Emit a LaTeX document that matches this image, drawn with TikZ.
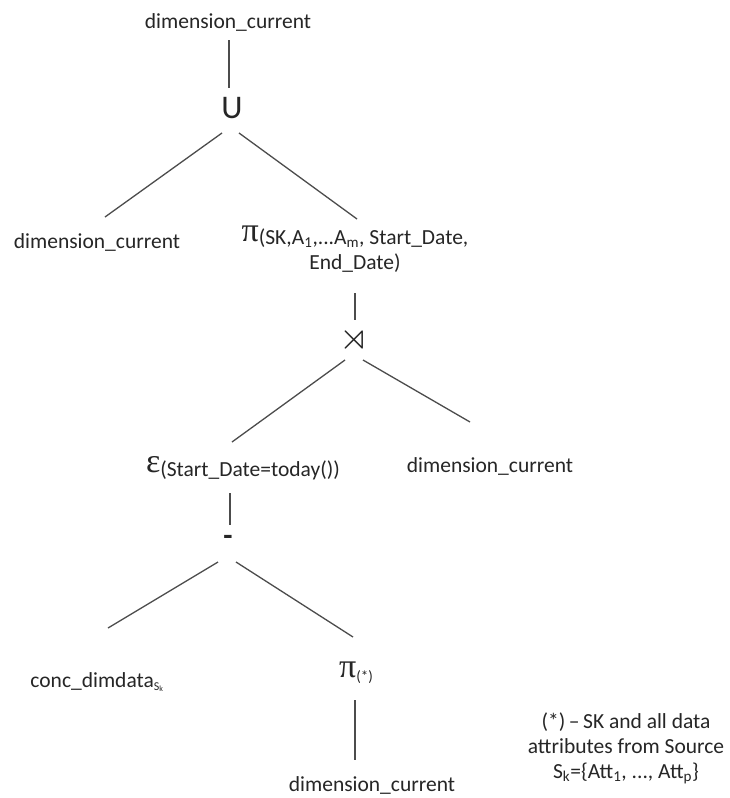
\documentclass[tikz,border=0pt]{standalone}
\usepackage{amssymb}
\usepackage{graphicx}
\usepackage{fontspec}
\setmainfont{Carlito}
\newfontfamily\greekfont{Liberation Serif}
\usetikzlibrary{calc}
\newcommand{\bigpi}{{\greekfont\fontsize{34}{34}\selectfont π}}
\newcommand{\bigeps}{{\greekfont\fontsize{34}{34}\selectfont ε}}
\begin{document}
\begin{tikzpicture}[x=1pt,y=-1pt,
  lbl/.style={inner sep=0pt, font=\fontsize{21.5}{25}\selectfont, text=black!85},
  op/.style={inner sep=0pt, text=black!85},
  edge/.style={draw=black!70, line width=1.3pt}]
\useasboundingbox[fill=white] (0,0) rectangle (730,798);

% operator tree
\node[lbl] (top) at (228,22) {dimension\_current};
\node[op, font=\fontsize{33}{33}\selectfont] (u) at (232,108) {U};
\node[lbl] (dl) at (97,242) {dimension\_current};
\node[lbl, align=center] (pi1) at (355,249)
  {\bigpi\raisebox{-3pt}{(SK,A\textsubscript{1},...A\textsubscript{m}, Start\_Date,}\\[3pt]End\_Date)};
\node[op] (join) at (354,340) {\scalebox{3.8}{$\rtimes$}};
\node[lbl] (eps) at (243,468)
  {\bigeps\raisebox{-4pt}{(Start\_Date=today())}};
\node[lbl] (dr) at (490,466) {dimension\_current};
\node[op, font=\fontsize{30}{30}\selectfont\bfseries] (minus) at (228,540) {-};
\node[lbl] (conc) at (97,682)
  {conc\_dimdata\raisebox{-3pt}{\fontsize{12}{12}\selectfont S\textsubscript{k}}};
\node[lbl] (pi2) at (356,673)
  {\bigpi\raisebox{-4pt}{\fontsize{15}{15}\selectfont(*)}};
\node[lbl] (bot) at (372,785) {dimension\_current};

% footnote
\node[lbl, align=center] (note) at (626,748)
  {(*)\,–\,SK and all data\\attributes from Source\\S\textsubscript{k}=\{Att\textsubscript{1}, ..., Att\textsubscript{p}\}};

% connectors
\draw[edge] ($(top.center)+(1,18)$) -- ($(u.center)+(-3,-20)$);
\draw[edge] ($(u.center)+(-10,25)$) -- ($(dl.center)+(8,-25)$);
\draw[edge] ($(u.center)+(7,25)$) -- ($(pi1.center)+(2,-30)$);
\draw[edge] ($(pi1.center)+(0,44)$) -- ($(join.center)+(1,-20)$);
\draw[edge] ($(join.center)+(-9,20)$) -- ($(eps.center)+(-11,-26)$);
\draw[edge] ($(join.center)+(9,20)$) -- ($(dr.center)+(-20,-44)$);
\draw[edge] ($(eps.center)+(-13,25)$) -- ($(minus.center)+(2,-15)$);
\draw[edge] ($(minus.center)+(-10,22)$) -- ($(conc.center)+(11,-54)$);
\draw[edge] ($(minus.center)+(8,22)$) -- ($(pi2.center)+(-3,-36)$);
\draw[edge] ($(pi2.center)+(-1,27)$) -- ($(bot.center)+(-17,-25)$);
\end{tikzpicture}
\end{document}
